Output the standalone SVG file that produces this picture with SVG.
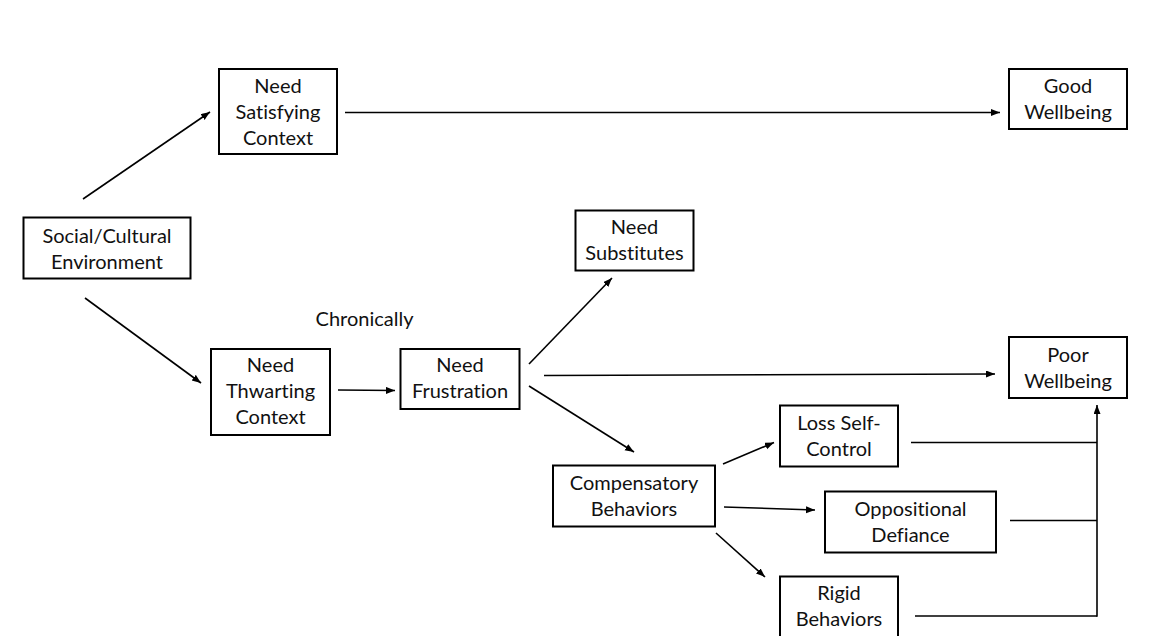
<svg xmlns="http://www.w3.org/2000/svg" width="1154" height="636" viewBox="0 0 1154 636">
  <style>
    .box { fill: #ffffff; stroke: #000000; stroke-width: 2; }
    .lbl { font-family: Lato, "Liberation Sans", sans-serif; font-size: 20px; fill: #111111; text-anchor: middle; font-variant-ligatures: none; font-feature-settings: "liga" 0, "clig" 0; }
    .edge { fill: none; stroke: #000000; stroke-width: 1.6; }
    .arrow { marker-end: url(#head); }
  </style>
  <defs>
    <marker id="head" markerUnits="userSpaceOnUse" markerWidth="10" markerHeight="8" refX="9" refY="3.5" orient="auto">
      <path d="M0,0 L9,3.5 L0,7 z" fill="#000000"/>
    </marker>
  </defs>
  <rect width="1154" height="636" fill="#ffffff"/>

  <!-- connectors -->
  <g id="connectors">
    <line class="edge arrow" x1="83" y1="199" x2="210" y2="112"/>
    <line class="edge arrow" x1="85" y1="298" x2="201" y2="383"/>
    <line class="edge arrow" x1="345" y1="112.5" x2="1000" y2="112.5"/>
    <line class="edge arrow" x1="338" y1="390" x2="395" y2="390.5"/>
    <line class="edge arrow" x1="529" y1="364" x2="612" y2="278"/>
    <line class="edge arrow" x1="544" y1="375.5" x2="995" y2="374"/>
    <line class="edge arrow" x1="529" y1="386" x2="634" y2="452"/>
    <line class="edge arrow" x1="723" y1="464" x2="774" y2="442.5"/>
    <line class="edge arrow" x1="724" y1="507" x2="815" y2="510"/>
    <line class="edge arrow" x1="716" y1="533" x2="765" y2="577"/>
    <line class="edge" x1="911" y1="442.5" x2="1097" y2="442.5"/>
    <line class="edge" x1="1010" y1="520.5" x2="1097" y2="520.5"/>
    <line class="edge" x1="915" y1="616" x2="1097" y2="616"/>
    <line class="edge arrow" x1="1097" y1="616.8" x2="1097" y2="405"/>
  </g>

  <text class="lbl" x="364.5" y="326">Chronically</text>

  <g id="need-satisfying">
    <rect class="box" x="219" y="69" width="118" height="85"/>
    <text class="lbl" x="278" y="92.5">Need</text>
    <text class="lbl" x="278" y="118.5">Satisfying</text>
    <text class="lbl" x="278" y="144.5">Context</text>
  </g>

  <g id="good-wellbeing">
    <rect class="box" x="1009" y="69" width="118" height="60"/>
    <text class="lbl" x="1068" y="92.5">Good</text>
    <text class="lbl" x="1068" y="118.5">Wellbeing</text>
  </g>

  <g id="social-environment">
    <rect class="box" x="23.5" y="217.5" width="167" height="61"/>
    <text class="lbl" x="107" y="242.5">Social/Cultural</text>
    <text class="lbl" x="107" y="268.5">Environment</text>
  </g>

  <g id="need-substitutes">
    <rect class="box" x="575.5" y="210.5" width="118" height="60"/>
    <text class="lbl" x="634.5" y="234">Need</text>
    <text class="lbl" x="634.5" y="260">Substitutes</text>
  </g>

  <g id="need-thwarting">
    <rect class="box" x="211" y="349" width="119" height="86"/>
    <text class="lbl" x="270.5" y="372">Need</text>
    <text class="lbl" x="270.5" y="398">Thwarting</text>
    <text class="lbl" x="270.5" y="424">Context</text>
  </g>

  <g id="need-frustration">
    <rect class="box" x="400.5" y="349" width="119" height="60"/>
    <text class="lbl" x="460" y="372">Need</text>
    <text class="lbl" x="460" y="398">Frustration</text>
  </g>

  <g id="poor-wellbeing">
    <rect class="box" x="1009" y="337" width="118" height="61"/>
    <text class="lbl" x="1068" y="361.5">Poor</text>
    <text class="lbl" x="1068" y="387.5">Wellbeing</text>
  </g>

  <g id="loss-self-control">
    <rect class="box" x="780" y="405.5" width="118" height="61"/>
    <text class="lbl" x="839" y="429.5">Loss Self-</text>
    <text class="lbl" x="839" y="455.5">Control</text>
  </g>

  <g id="compensatory-behaviors">
    <rect class="box" x="553" y="465.5" width="162" height="61"/>
    <text class="lbl" x="634" y="490">Compensatory</text>
    <text class="lbl" x="634" y="516">Behaviors</text>
  </g>

  <g id="oppositional-defiance">
    <rect class="box" x="825" y="491.5" width="171" height="61"/>
    <text class="lbl" x="910.5" y="515.5">Oppositional</text>
    <text class="lbl" x="910.5" y="541.5">Defiance</text>
  </g>

  <g id="rigid-behaviors">
    <rect class="box" x="780" y="576.5" width="118" height="62"/>
    <text class="lbl" x="839" y="600">Rigid</text>
    <text class="lbl" x="839" y="626">Behaviors</text>
  </g>
</svg>
